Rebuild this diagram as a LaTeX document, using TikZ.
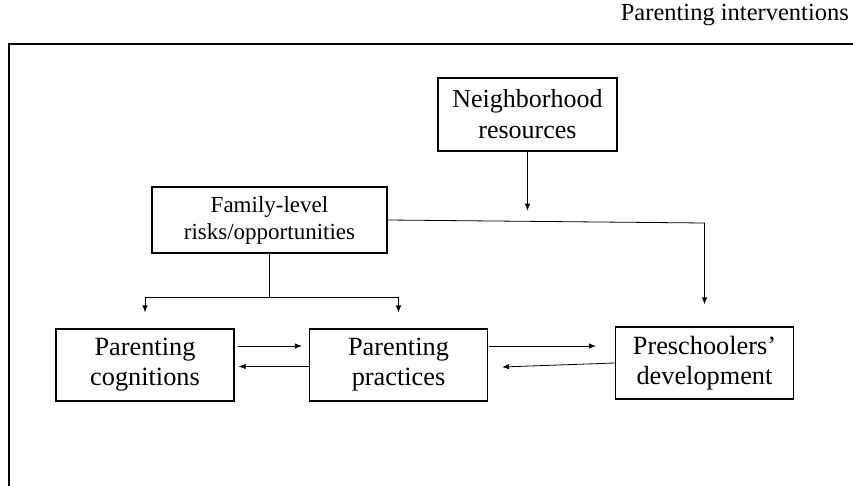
\documentclass[tikz,border=0pt]{standalone}
\usepackage{fontspec}
\setmainfont{Liberation Serif}
\usepackage{tikz}
\usetikzlibrary{shapes,arrows,arrows.meta,calc}
\tikzstyle{block} = [draw, line width=1.3pt, rectangle, minimum height=72pt, minimum width=178pt, inner sep=0pt, align=center, font=\fontsize{26.3}{30}\selectfont]
\tikzstyle{Familyblock} = [block, minimum height=66pt, minimum width=235pt, font=\fontsize{23}{27}\selectfont]
\tikzstyle{link} = [line width=0.8pt]

\begin{document}
\begin{tikzpicture}[x=1pt, y=-1pt, >={Latex[length=7pt,width=5.5pt]}]
\useasboundingbox (0,0) rectangle (853,486);

%% Ramme %%
\node [anchor=base east, inner sep=0pt, font=\fontsize{24.5}{28}\selectfont] (Interventions) at (849,21) {Parenting interventions};
\draw[line width=1.1pt] (853,44) -| (9,486);

%% Blokke %%
\node [block, minimum width=179pt, minimum height=73pt, font=\fontsize{26}{31}\selectfont] (Neighborhood) at (527.5,114.5) {Neighborhood\\resources};

\node [Familyblock] (Family) at (269.5,220) {Family-level\\risks/opportunities};

\node [block] (Cognitions) at (145,365) {Parenting\\cognitions};

\node [block] (Practices) at ($(Cognitions)+(253.5,0)$) {Parenting\\practices};

\node [block] (Development) at ($(Practices)+(306,-2)$) {Preschoolers’\\development};

%% Forbindelse %%
\coordinate (NeighborhoodEnd) at ($(Neighborhood.south)+(0,59)$);
\draw[link,->] (Neighborhood) -- (NeighborhoodEnd);

\coordinate (Split) at ($(Family.south)+(0,44)$);
\coordinate (CognitionsIn) at ($(Cognitions.north)+(0,-16)$);
\coordinate (PracticesIn) at ($(Practices.north)+(0,-16)$);
\draw[link] (Family) -- (Split);
\draw[link,->] (Split) -| (CognitionsIn);
\draw[link,->] (Split) -| (PracticesIn);

\coordinate (Corner) at (704.5,223);
\coordinate (DevelopmentIn) at ($(Development.north)+(0,-22)$);
\draw[link,->] (Family.east) -- (Corner) -- (DevelopmentIn);

\draw[link,->] ($(Cognitions.east)+(3,-19)$) -- ($(Practices.west)+(-7,-19)$);
\draw[link,->] ($(Practices.west)+(0,1.5)$) -- ($(Cognitions.east)+(4,1.5)$);
\draw[link,->] ($(Practices.east)+(1,-19)$) -- ($(Development.west)+(-19,-17)$);
\draw[link,->] (Development.west) -- ($(Practices.east)+(14,2)$);
\end{tikzpicture}
\end{document}
